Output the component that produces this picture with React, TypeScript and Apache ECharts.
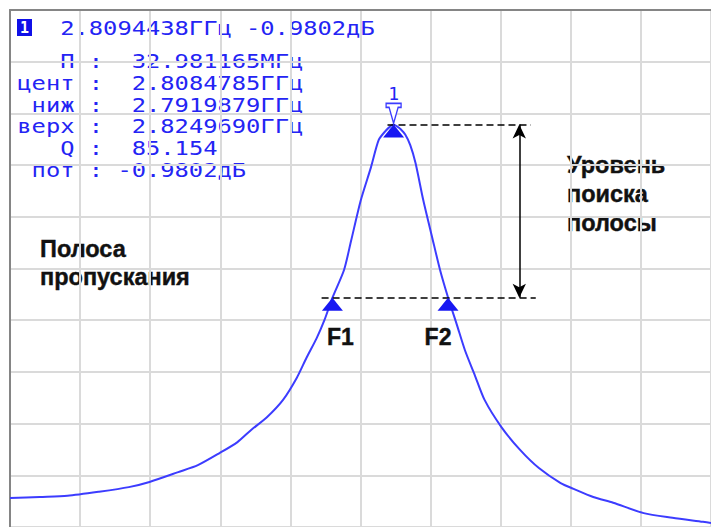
import React, { useEffect, useRef } from "react";
import * as echarts from "echarts";

// Trace (frequency in GHz, level in dB)
const freqGHz = [
  2.7, 2.7085, 2.7164, 2.7254, 2.7339, 2.7398, 2.748, 2.7536, 2.7598, 2.7649,
  2.7688, 2.7733, 2.7779, 2.7818, 2.7846, 2.7875, 2.7897, 2.792, 2.7953, 2.7973,
  2.8001, 2.803, 2.8052, 2.8072, 2.8086, 2.8094, 2.8103, 2.8114, 2.8128, 2.8142,
  2.8157, 2.8179, 2.8205, 2.8227, 2.825, 2.8275, 2.8298, 2.8326, 2.8354, 2.8402,
  2.8456, 2.8509, 2.8571, 2.8608, 2.8664, 2.8721, 2.8808, 2.889, 2.8977, 2.9,
];
const levelDb = [
  -7.45, -7.43, -7.41, -7.34, -7.26, -7.17, -7.0, -6.88, -6.67, -6.48,
  -6.27, -6.05, -5.75, -5.37, -5.02, -4.68, -4.37, -3.98, -3.5, -3.0,
  -2.29, -1.72, -1.25, -1.09, -1.01, -0.98, -1.01, -1.06, -1.16, -1.34,
  -1.65, -2.29, -2.95, -3.5, -3.98, -4.45, -4.89, -5.32, -5.75, -6.22,
  -6.62, -6.93, -7.19, -7.29, -7.43, -7.53, -7.71, -7.79, -7.86, -7.88,
];

// Markers
const markerNames = ["1", "F1", "F2"];
const markerFreqGHz = [2.8094438, 2.7919879, 2.824969];
const markerLevelDb = [-0.9802, -3.9802, -3.9802];

// Band search level guides (GHz ranges of dashed lines, arrow frequency)
const peakGuideGHz = [2.8077, 2.8486];
const levelGuideGHz = [2.7889, 2.85];
const arrowGHz = 2.8453;

// Readout text
const headerText = "2.8094438ГГц -0.9802дБ";
const readoutLabels = ["П", "цент", "ниж", "верх", "Q", "пот"];
const readoutValues = [
  "32.981165МГц",
  "2.8084785ГГц",
  "2.7919879ГГц",
  "2.8249690ГГц",
  "85.154",
  "-0.9802дБ",
];

const BLUE_TEXT = "#2424f4";
const BLUE_LINE = "#3c3cff";
const BLUE_MARK = "#1818f2";
const MONO = '"DejaVu Sans Mono", monospace';
const SANS = '"Liberation Sans", Arial, sans-serif';

export default function App() {
  const ref = useRef<HTMLDivElement>(null);

  useEffect(() => {
    if (!ref.current) return;
    const chart = echarts.init(ref.current, null, { renderer: "svg" });

    const col = 14.3;
    const x0 = 17.3;
    const sx = 1.25;
    const monoStyle = (text: string, extra: any = {}) => ({
      text,
      fill: BLUE_TEXT,
      fontFamily: MONO,
      fontSize: 19,
      verticalAlign: "middle",
      textVerticalAlign: "middle",
      ...extra,
    });
    const annStyle = (text: string, lineHeight: number) => ({
      text,
      fill: "#111",
      stroke: "#111",
      lineWidth: 0.4,
      fontFamily: SANS,
      fontWeight: "bold",
      fontSize: 23.5,
      lineHeight,
      verticalAlign: "middle",
      textVerticalAlign: "middle",
    });

    const graphic: any[] = [
      {
        type: "rect",
        shape: { x: 17, y: 19, width: 15, height: 17 },
        style: { fill: "#1010e8" },
      },
      {
        type: "text",
        x: 24.5,
        y: 28,
        style: {
          text: "1",
          fill: "#fff",
          fontFamily: MONO,
          fontWeight: "bold",
          fontSize: 15,
          align: "center",
          textAlign: "center",
          verticalAlign: "middle",
          textVerticalAlign: "middle",
        },
      },
      {
        type: "text",
        x: x0 + 3 * col,
        y: 28,
        scaleX: sx,
        style: monoStyle(headerText),
      },
    ];

    readoutLabels.forEach((lab, i) => {
      const y = 61.5 + i * 21.7;
      const val = readoutValues[i];
      graphic.push({
        type: "text",
        x: x0 + 4 * col,
        y,
        scaleX: sx,
        style: monoStyle(lab, { align: "right", textAlign: "right" }),
      });
      graphic.push({
        type: "text",
        x: x0 + 5 * col,
        y,
        scaleX: sx,
        style: monoStyle(":"),
      });
      graphic.push({
        type: "text",
        x: x0 + (val.startsWith("-") ? 7 : 8) * col,
        y,
        scaleX: sx,
        style: monoStyle(val),
      });
    });

    graphic.push({
      type: "text",
      x: 567,
      y: 194,
      style: annStyle("Уровень\nпоиска\nполосы", 29),
    });
    graphic.push({
      type: "text",
      x: 40,
      y: 263,
      style: annStyle("Полоса\nпропускания", 28.5),
    });

    const gridLine = { show: true, lineStyle: { color: "#dadada", width: 2 } };
    const border = { show: true, onZero: false, lineStyle: { color: "#858585", width: 2 } };

    const triangle = (i: number, label: any) => ({
      name: markerNames[i],
      coord: [markerFreqGHz[i], markerLevelDb[i]],
      symbol: "triangle",
      symbolSize: [21, 13],
      symbolOffset: [0, 6.5],
      itemStyle: { color: BLUE_MARK },
      label,
    });
    const fLabel = (dx: number) => ({
      show: true,
      position: "inside",
      offset: [dx, 33],
      formatter: "{b}",
      color: "#111",
      fontFamily: SANS,
      fontWeight: "bold",
      fontSize: 23,
      textBorderColor: "#111",
      textBorderWidth: 0.4,
    });

    chart.setOption({
      animation: false,
      backgroundColor: "#ffffff",
      grid: { left: 10, top: 10, width: 709, height: 517 },
      xAxis: [
        {
          type: "value",
          min: 0,
          max: 10,
          interval: 1,
          position: "top",
          axisLine: border,
          axisTick: { show: false },
          axisLabel: { show: false },
          splitLine: gridLine,
        },
        { type: "value", min: 2.7, max: 2.9, show: false, splitLine: { show: false } },
      ],
      yAxis: [
        {
          type: "value",
          min: 0,
          max: 10,
          interval: 1,
          position: "left",
          axisLine: border,
          axisTick: { show: false },
          axisLabel: { show: false },
          splitLine: gridLine,
        },
        { type: "value", min: -7.95, max: 1, show: false, splitLine: { show: false } },
      ],
      series: [
        {
          type: "line",
          xAxisIndex: 1,
          yAxisIndex: 1,
          data: freqGHz.map((f, i) => [f, levelDb[i]]),
          showSymbol: false,
          symbol: "none",
          smooth: 0.25,
          lineStyle: { color: BLUE_LINE, width: 2 },
          z: 3,
          markLine: {
            silent: true,
            symbol: "none",
            label: { show: false },
            lineStyle: { color: "#000", type: [7, 4], width: 1.5 },
            data: [
              [
                { coord: [peakGuideGHz[0], markerLevelDb[0]] },
                { coord: [peakGuideGHz[1], markerLevelDb[0]] },
              ],
              [
                { coord: [levelGuideGHz[0], markerLevelDb[1]] },
                { coord: [levelGuideGHz[1], markerLevelDb[1]] },
              ],
              [
                {
                  coord: [arrowGHz, markerLevelDb[0]],
                  symbol: "arrow",
                  symbolSize: [10, 14],
                  lineStyle: { type: "solid", color: "#000", width: 1.5 },
                },
                { coord: [arrowGHz, markerLevelDb[1]], symbol: "arrow", symbolSize: [10, 14] },
              ],
            ],
          },
          markPoint: {
            silent: true,
            data: [
              triangle(0, { show: false }),
              triangle(1, fLabel(8)),
              triangle(2, fLabel(-10)),
              {
                name: markerNames[0],
                coord: [markerFreqGHz[0], markerLevelDb[0]],
                symbol: "path://M0 0H15V4H12L7.5 20L3 4H0Z",
                symbolSize: [15, 20],
                symbolOffset: [0, -11],
                itemStyle: { color: "#ffffff", borderColor: BLUE_LINE, borderWidth: 1.5 },
                label: {
                  show: true,
                  position: "inside",
                  offset: [0, -20],
                  formatter: "{b}",
                  color: BLUE_TEXT,
                  fontFamily: MONO,
                  fontSize: 18,
                  textBorderWidth: 0,
                },
              },
            ],
          },
        },
      ],
      graphic,
    });

    return () => chart.dispose();
  }, []);

  return (
    <div
      ref={ref}
      style={{ position: "absolute", left: 0, top: 0, width: 711, height: 527, overflow: "hidden" }}
    />
  );
}
